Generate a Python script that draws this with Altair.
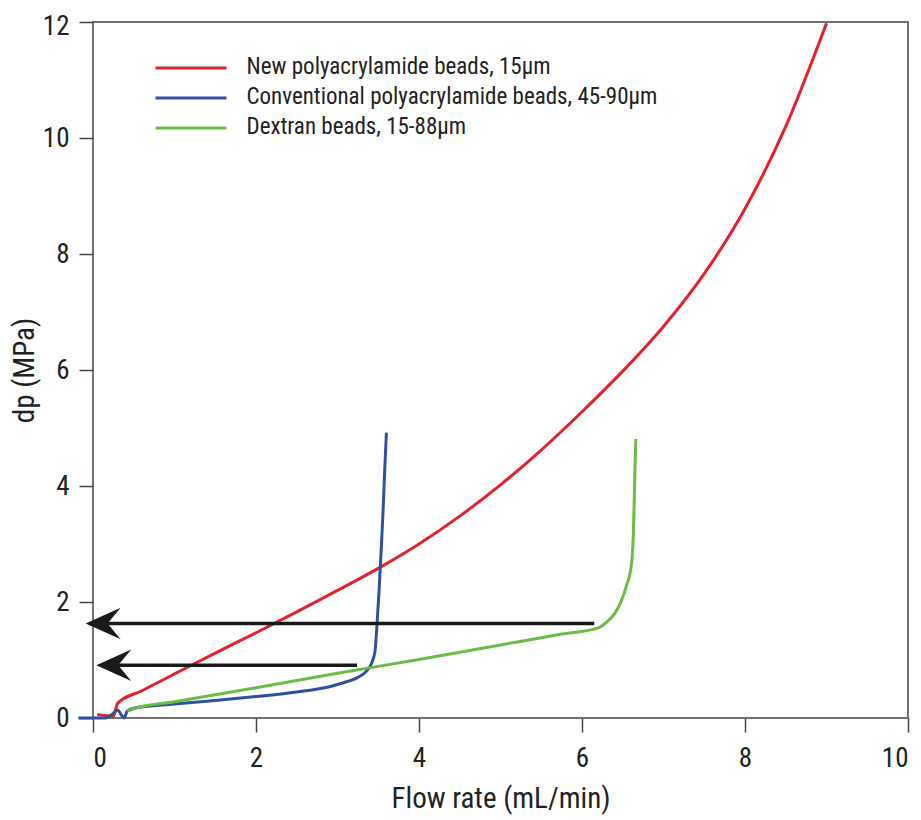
import altair as alt
import pandas as pd

SERIES = [
    "New polyacrylamide beads, 15μm",
    "Conventional polyacrylamide beads, 45-90μm",
    "Dextran beads, 15-88μm",
]
COLORS = ["#e5222b", "#2e50a2", "#6bbd45"]

red_x = [0.05, 0.25, 0.30, 0.60, 1.0, 1.5, 2.0, 2.5, 3.0, 3.5, 4.0, 4.5, 5.0, 5.5, 6.0, 6.5, 7.0, 7.5, 8.0, 8.5, 9.0]
red_y = [0.06, 0.03, 0.25, 0.47, 0.76, 1.12, 1.47, 1.83, 2.20, 2.58, 3.00, 3.48, 4.02, 4.62, 5.28, 5.98, 6.75, 7.66, 8.78, 10.20, 11.98]

blue_x = [-0.18, 0.15, 0.25, 0.30, 0.35, 0.38, 0.42, 0.50, 1.0, 1.5, 2.0, 2.5, 2.9, 3.1, 3.25, 3.35, 3.42, 3.46, 3.48, 3.51, 3.54, 3.56, 3.58, 3.60]
blue_y = [0.0, 0.0, 0.08, 0.14, 0.05, 0.0, 0.12, 0.17, 0.24, 0.30, 0.37, 0.45, 0.54, 0.62, 0.70, 0.80, 0.95, 1.15, 1.50, 2.20, 3.00, 3.60, 4.30, 4.92]

green_x = [0.42, 0.50, 1.0, 2.0, 3.0, 4.0, 5.0, 5.72, 6.19, 6.30, 6.40, 6.48, 6.55, 6.60, 6.63, 6.65, 6.66]
green_y = [0.12, 0.16, 0.28, 0.52, 0.77, 1.01, 1.26, 1.44, 1.55, 1.65, 1.80, 2.01, 2.30, 2.58, 3.16, 4.30, 4.81]

arrow_y = [1.63, 0.91]
arrow_start = [6.15, 3.24]
arrow_tip = [-0.09, 0.04]

x_ticks = [0, 2, 4, 6, 8, 10]
y_ticks = [0, 2, 4, 6, 8, 10, 12]

FONT = "Liberation Sans Narrow, Arial Narrow, Roboto Condensed, Roboto, sans-serif"

rows = []
for name, xs, ys in zip(SERIES, [red_x, blue_x, green_x], [red_y, blue_y, green_y]):
    for i, (xv, yv) in enumerate(zip(xs, ys)):
        rows.append({"series": name, "i": i, "x": xv, "y": yv})
df = pd.DataFrame(rows)

arrows = pd.DataFrame({"y": arrow_y, "x": arrow_start, "tip": arrow_tip})
legend_df = pd.DataFrame({"series": SERIES, "k": list(range(len(SERIES)))})

color = alt.Color("series:N", scale=alt.Scale(domain=SERIES, range=COLORS), legend=None)

xscale = alt.Scale(domain=[0, 10], nice=False, zero=False)
yscale = alt.Scale(domain=[0, 12], nice=False)

xaxis = alt.Axis(values=x_ticks, format="d", title="Flow rate (mL/min)", grid=False, tickSize=14,
                 labelPadding=13, titlePadding=13, domain=False)
yaxis = alt.Axis(values=y_ticks, format="d", title="dp (MPa)", grid=False, tickSize=14,
                 labelPadding=10, titlePadding=3, domain=False,
                 labelOffset={"condition": {"test": "datum.value == 12", "value": 4}, "value": 0})

lines = alt.Chart(df).mark_line(strokeWidth=3, interpolate="monotone").encode(
    x=alt.X("x:Q", scale=xscale, axis=xaxis),
    y=alt.Y("y:Q", scale=yscale, axis=yaxis),
    color=color,
    order="i:Q",
)

shafts = alt.Chart(arrows).mark_rule(strokeWidth=3.5, color="#1a1a1a", x2Offset=18).encode(
    x=alt.X("x:Q", scale=xscale),
    x2="tip:Q",
    y=alt.Y("y:Q", scale=yscale),
)

heads = alt.Chart(arrows).mark_point(
    shape="M0,0L2,-0.9L1.25,0L2,0.9Z", filled=True, size=1225, color="#1a1a1a",
    opacity=1, strokeWidth=0,
).encode(
    x=alt.X("tip:Q", scale=xscale),
    y=alt.Y("y:Q", scale=yscale),
)

plot = alt.layer(lines, shafts, heads)

leg_scale = alt.Scale(domain=[0, 2], range=[46, 106])
leg_lines = alt.Chart(legend_df).mark_rule(strokeWidth=3).encode(
    x=alt.value(62.5),
    x2=alt.value(133.5),
    y=alt.Y("k:Q", scale=leg_scale, axis=None),
    color=color,
)
leg_text = alt.Chart(legend_df).mark_text(
    align="left", baseline="middle", fontSize=23, font=FONT, color="#222222", dy=-1
).encode(
    x=alt.value(153.5),
    y=alt.Y("k:Q", scale=leg_scale, axis=None),
    text="series:N",
)
legend = alt.layer(leg_lines, leg_text)

chart = alt.layer(plot, legend).resolve_scale(
    y="independent"
).properties(
    width=815,
    height=696,
    padding={"left": 85, "top": 14, "right": 5, "bottom": 101},
    autosize=alt.AutoSizeParams(type="none"),
).configure_view(
    stroke="#444444", strokeWidth=1.5
).configure_axis(
    labelFont=FONT, titleFont=FONT, labelFontSize=27, titleFontSize=29,
    labelColor="#222222", titleColor="#222222", titleFontWeight="normal",
    tickColor="#444444", tickWidth=1.5,
)

chart.save("out.html", embed_options={"renderer": "svg", "actions": False})
